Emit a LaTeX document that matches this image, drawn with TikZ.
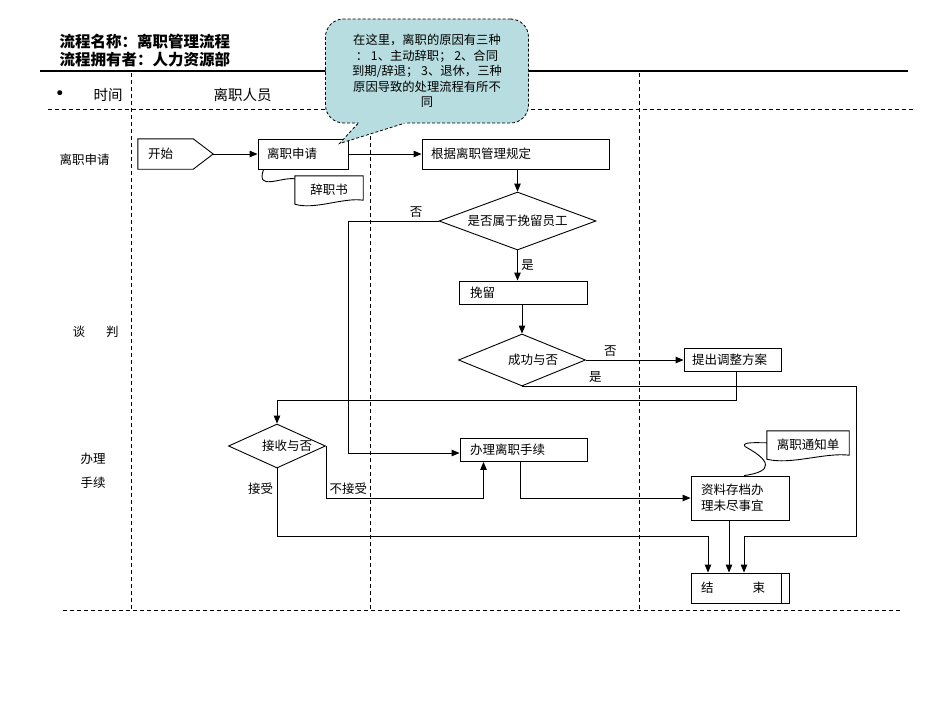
\documentclass[tikz,border=0pt]{standalone}
\usepackage{fontspec}
\setmainfont{Noto Sans CJK SC}
\newfontfamily\symfont{DejaVu Sans}
\usetikzlibrary{shapes.geometric,arrows.meta,calc}
\definecolor{notefill}{RGB}{183,221,224}

\begin{document}
\begin{tikzpicture}[x=1pt,y=-1pt,
    every node/.style={font=\fontsize{12.5}{16}\selectfont},
    box/.style={draw, line width=0.9pt, fill=white, inner xsep=9pt, inner ysep=0pt, align=left},
    decision/.style={draw, diamond, line width=0.9pt, fill=white, inner sep=0pt},
    paper/.style={inner sep=0pt},
    flow/.style={line width=0.9pt, -{Triangle[length=8pt,width=6.5pt]}},
    link/.style={line width=0.9pt},
    lane/.style={line width=0.8pt, dash pattern=on 4pt off 3pt},
    notebd/.style={line width=0.8pt, dash pattern=on 3pt off 2pt},
    note/.style={notebd, draw, fill=notefill, rounded corners=18pt, minimum width=203pt, minimum height=104pt, align=center, font=\fontsize{12.3}{15.5}\selectfont}
  ]
            \useasboundingbox (0,0) rectangle (950,713);
            \draw[line width=2pt] (40,71) -- (908,71);
            \draw[lane] (48,109) -- (916,109);
            \draw[lane] (63,610) -- (902,610);
            \foreach \x in {131,370,639}
                \draw[lane] (\x,73) -- (\x,609);

            \node[anchor=west, font=\fontsize{15.5}{18}\selectfont\bfseries] (title) at (56,42) {流程名称：离职管理流程};
            \node[anchor=west, font=\fontsize{15.5}{18}\selectfont\bfseries] (owner) at (56,60) {流程拥有者：人力资源部};
            \node[font=\fontsize{17}{18}\symfont] (dot) at (60,95) {•};
            \node[font=\fontsize{14.5}{17}\selectfont] (timehd) at (108,95) {时间};
            \node[font=\fontsize{14.5}{17}\selectfont] (staffhd) at (242.5,95) {离职人员};
            \node (lane1) at (84.5,160) {离职申请};
            \node (lane2) at (95.5,332) {谈\hspace{21pt}判};
            \node (lane3) at (93,459) {办理};
            \node (lane4) at (93,483) {手续};

            \node[inner xsep=10pt, inner ysep=0pt, text width=55pt, minimum height=30pt, align=left] (start) at (175.5,154) {开始};
            \draw[link] (start.north west) -- ([xshift=-20pt]start.north east) -- (start.east) -- ([xshift=-20pt]start.south east) -- (start.south west) -- cycle;
            \node[box, text width=72pt, minimum height=30pt] (apply) at (303,154) {离职申请};
            \node[paper, minimum width=68pt, minimum height=28pt] (letter) at (329,190) {辞职书};
            \draw[link] (letter.north west) -- (letter.north east) -- ([yshift=4pt]letter.south east) .. controls +(-20,-3) and +(20,6) .. (letter.south west) -- cycle;
            \node[box, text width=169pt, minimum height=30pt] (rule) at (515.5,154) {根据离职管理规定};
            \node[decision, aspect=2.7, minimum width=157pt, minimum height=58pt] (keep) at (517.5,221) {是否属于挽留员工};
            \node[box, inner xsep=11pt, text width=106pt, minimum height=23pt] (retain) at (523,292.5) {挽留};
            \node[decision, aspect=2.44, minimum width=127pt, minimum height=52pt] (success) at (522,360) {\hspace{22pt}成功与否};
            \node[box, inner xsep=8pt, text width=81pt, minimum height=23pt] (adjust) at (732.5,359.5) {提出调整方案};
            \node[decision, aspect=2.2, minimum width=97pt, minimum height=44pt] (accept) at (277,446) {\hspace{20pt}接收与否};
            \node[box, inner xsep=10pt, text width=107pt, minimum height=23pt] (handle) at (523.5,450) {办理离职手续};
            \node[box, inner xsep=10pt, text width=78pt, minimum height=44pt] (archive) at (740,498) {资料存档办\\理未尽事宜};
            \node[paper, minimum width=82pt, minimum height=28pt] (notice) at (808,445) {离职通知单};
            \draw[link] (notice.north west) -- (notice.north east) -- ([yshift=4pt]notice.south east) .. controls +(-24,-3) and +(24,6) .. (notice.south west) -- cycle;
            \node[box, inner xsep=10pt, text width=78pt, minimum height=30pt] (finish) at (740,588) {结\hspace{39pt}束};
            \draw[link] ([xshift=-8pt]finish.north east) -- ([xshift=-8pt]finish.south east);

            \draw[flow] (start.east) -- (apply.west);
            \draw[flow] (apply.east) -- (rule.west);
            \draw[flow] (rule.south -| keep.north) -- (keep.north);
            \draw[flow] (keep.south) -- node[right] {是} (keep.south |- retain.north);
            \draw[flow] (keep.west) -- node[pos=0.25, above] {否} +(-90,0) |- ([yshift=-3pt]handle.west);
            \draw[flow] (retain.south -| success.north) -- (success.north);
            \draw[flow] (success.east) -- node[pos=0.25, above] {否} (success.east -| adjust.west);
            \coordinate (rail) at (856,536);
            \draw[flow] (success.south) -- node[pos=0.22, above] {是} (success.south -| rail) -- (rail) -| ([xshift=4pt]finish.north);
            \draw[flow] ([xshift=4pt]adjust.south) -- ++(0,29) -| (accept.north);
            \draw[flow] (accept.south) -- node[pos=0.3, left] {接受} (accept.south |- rail) -| ([xshift=-32pt]finish.north);
            \draw[flow] (accept.east) -- node[pos=0.83, right] {不接受} ++(0,52) -| ([xshift=-40pt]handle.south);
            \draw[flow] ([xshift=-3pt]handle.south) |- (archive.west);
            \draw[flow] ([xshift=-11pt]archive.south) -- ([xshift=-11pt]finish.north);
            \draw[link] ([xshift=6pt]apply.south west) .. controls +(-8,22) and +(-14,-2) .. ([yshift=-3pt]letter.north west);
            \draw[link] ([xshift=4pt]archive.north) .. controls +(30,-4) and +(26,14) .. +(1,-29) .. controls +(-4,-5) and +(-10,0) .. ([yshift=-12pt]notice.north west);

            \node[note] (bubble) at (427,71) {在这里，离职的原因有三种\\： 1、主动辞职； 2、合同\\到期/辞退； 3、退休，三种\\原因导致的处理流程有所不\\同};
            \coordinate (tip) at ([xshift=-9pt,yshift=-5pt]apply.north east);
            \coordinate (tl) at ([xshift=-69pt]bubble.south);
            \coordinate (tr) at ([xshift=-23pt]bubble.south);
            \fill[notefill] ($(tip)!1.35!(tl)$) -- (tip) -- ($(tip)!1.35!(tr)$) -- cycle;
            \draw[notebd] (tl) -- (tip) -- (tr);
        \end{tikzpicture}
\end{document}
